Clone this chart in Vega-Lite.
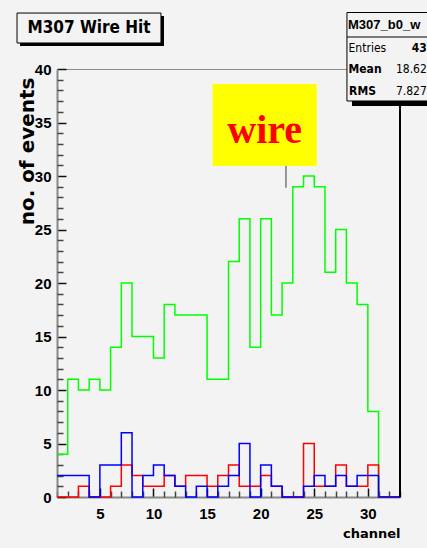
{
 "$schema": "https://vega.github.io/schema/vega-lite/v6.json",
 "autosize": "none",
 "width": 343,
 "height": 428,
 "padding": {"left": 57, "top": 69, "right": 27, "bottom": 51},
 "background": "#f3f3f3",
 "config": {"view": {"stroke": "#8c8c8c", "strokeWidth": 1}, "axis": {"labelOverlap": false, "labelFlush": false, "grid": false}},
 "resolve": {"axis": {"x": "independent", "y": "independent"}},
 "datasets": {
  "hist": [
   {"series":"green","channel":1,"count":4},{"series":"green","channel":2,"count":11},{"series":"green","channel":3,"count":10},{"series":"green","channel":4,"count":11},{"series":"green","channel":5,"count":10},{"series":"green","channel":6,"count":14},{"series":"green","channel":7,"count":20},{"series":"green","channel":8,"count":15},{"series":"green","channel":9,"count":15},{"series":"green","channel":10,"count":13},{"series":"green","channel":11,"count":18},{"series":"green","channel":12,"count":17},{"series":"green","channel":13,"count":17},{"series":"green","channel":14,"count":17},{"series":"green","channel":15,"count":11},{"series":"green","channel":16,"count":11},{"series":"green","channel":17,"count":22},{"series":"green","channel":18,"count":26},{"series":"green","channel":19,"count":14},{"series":"green","channel":20,"count":26},{"series":"green","channel":21,"count":17},{"series":"green","channel":22,"count":20},{"series":"green","channel":23,"count":29},{"series":"green","channel":24,"count":30},{"series":"green","channel":25,"count":29},{"series":"green","channel":26,"count":21},{"series":"green","channel":27,"count":25},{"series":"green","channel":28,"count":20},{"series":"green","channel":29,"count":18},{"series":"green","channel":30,"count":8},{"series":"green","channel":31,"count":0},{"series":"green","channel":32,"count":0},{"series":"green","channel":33,"count":0},
   {"series":"red","channel":1,"count":0},{"series":"red","channel":2,"count":0},{"series":"red","channel":3,"count":1},{"series":"red","channel":4,"count":0},{"series":"red","channel":5,"count":0},{"series":"red","channel":6,"count":1},{"series":"red","channel":7,"count":3},{"series":"red","channel":8,"count":2},{"series":"red","channel":9,"count":1},{"series":"red","channel":10,"count":1},{"series":"red","channel":11,"count":2},{"series":"red","channel":12,"count":1},{"series":"red","channel":13,"count":2},{"series":"red","channel":14,"count":2},{"series":"red","channel":15,"count":1},{"series":"red","channel":16,"count":2},{"series":"red","channel":17,"count":3},{"series":"red","channel":18,"count":1},{"series":"red","channel":19,"count":1},{"series":"red","channel":20,"count":2},{"series":"red","channel":21,"count":1},{"series":"red","channel":22,"count":0},{"series":"red","channel":23,"count":0},{"series":"red","channel":24,"count":5},{"series":"red","channel":25,"count":1},{"series":"red","channel":26,"count":1},{"series":"red","channel":27,"count":3},{"series":"red","channel":28,"count":1},{"series":"red","channel":29,"count":1},{"series":"red","channel":30,"count":3},{"series":"red","channel":31,"count":0},{"series":"red","channel":32,"count":0},{"series":"red","channel":33,"count":0},
   {"series":"blue","channel":1,"count":2},{"series":"blue","channel":2,"count":2},{"series":"blue","channel":3,"count":2},{"series":"blue","channel":4,"count":0},{"series":"blue","channel":5,"count":3},{"series":"blue","channel":6,"count":3},{"series":"blue","channel":7,"count":6},{"series":"blue","channel":8,"count":0},{"series":"blue","channel":9,"count":2},{"series":"blue","channel":10,"count":3},{"series":"blue","channel":11,"count":2},{"series":"blue","channel":12,"count":1},{"series":"blue","channel":13,"count":0},{"series":"blue","channel":14,"count":1},{"series":"blue","channel":15,"count":0},{"series":"blue","channel":16,"count":1},{"series":"blue","channel":17,"count":2},{"series":"blue","channel":18,"count":5},{"series":"blue","channel":19,"count":0},{"series":"blue","channel":20,"count":3},{"series":"blue","channel":21,"count":1},{"series":"blue","channel":22,"count":0},{"series":"blue","channel":23,"count":0},{"series":"blue","channel":24,"count":1},{"series":"blue","channel":25,"count":2},{"series":"blue","channel":26,"count":1},{"series":"blue","channel":27,"count":2},{"series":"blue","channel":28,"count":1},{"series":"blue","channel":29,"count":2},{"series":"blue","channel":30,"count":2},{"series":"blue","channel":31,"count":0},{"series":"blue","channel":32,"count":0},{"series":"blue","channel":33,"count":0}
  ]
 },
 "layer": [
  {
   "data": {"name": "hist"},
   "transform": [{"filter": {"field": "series", "equal": "green"}}],
   "mark": {"type": "line", "interpolate": "step-after", "color": "#00ff00", "strokeWidth": 1.5},
   "encoding": {
    "x": {"field": "channel", "type": "quantitative", "scale": {"domain": [1, 33], "nice": false, "zero": false},
     "axis": {"orient": "bottom", "values": [5,10,15,20,25,30],
      "title": "channel", "titleAnchor": "end", "titleAlign": "right", "titleX": 343, "titleY": 40, "titleBaseline": "alphabetic",
      "titleFont": "DejaVu Sans", "titleFontSize": 13, "titleFontWeight": "bold", "titleColor": "#000",
      "tickSize": -9, "tickColor": "#111", "tickWidth": 1.5, "labelPadding": 18, "domainColor": "#888", "domainWidth": 2,
      "labelFont": "Liberation Sans", "labelFontSize": 15, "labelFontWeight": "bold", "labelColor": "#000"}},
    "y": {"field": "count", "type": "quantitative", "scale": {"domain": [0, 40], "nice": false, "zero": false},
     "axis": {"orient": "left", "values": [0,5,10,15,20,25,30,35,40],
      "title": "no. of events", "titleAngle": -90, "titleAlign": "right", "titleBaseline": "alphabetic", "titleX": -24, "titleY": 8,
      "titleFont": "DejaVu Sans", "titleFontSize": 20, "titleFontWeight": "bold", "titleColor": "#000",
      "tickSize": -9, "tickColor": "#111", "tickWidth": 1.5, "labelPadding": 15, "domainColor": "#888", "domainWidth": 2,
      "labelFont": "Liberation Sans", "labelFontSize": 15, "labelFontWeight": "bold", "labelColor": "#000"}}
   }
  },
  {
   "data": {"name": "hist"},
   "transform": [{"filter": {"field": "series", "equal": "red"}}],
   "mark": {"type": "line", "interpolate": "step-after", "color": "#ff0000", "strokeWidth": 1.5},
   "encoding": {
    "x": {"field": "channel", "type": "quantitative", "scale": {"domain": [1, 33], "nice": false, "zero": false},
     "axis": {"orient": "bottom", "values": [1,2,3,4,6,7,8,9,11,12,13,14,16,17,18,19,21,22,23,24,26,27,28,29,31,32,33],
      "title": null, "labels": false, "domain": false, "tickSize": -6, "tickColor": "#444", "tickWidth": 1.5}},
    "y": {"field": "count", "type": "quantitative", "scale": {"domain": [0, 40], "nice": false, "zero": false},
     "axis": {"orient": "left", "values": [1,2,3,4,6,7,8,9,11,12,13,14,16,17,18,19,21,22,23,24,26,27,28,29,31,32,33,34,36,37,38,39],
      "title": null, "labels": false, "domain": false, "tickSize": -6, "tickColor": "#444", "tickWidth": 1.5}}
   }
  },
  {
   "data": {"name": "hist"},
   "transform": [{"filter": {"field": "series", "equal": "blue"}}],
   "mark": {"type": "line", "interpolate": "step-after", "color": "#0000ff", "strokeWidth": 1.5},
   "encoding": {
    "x": {"field": "channel", "type": "quantitative", "scale": {"domain": [1, 33], "nice": false, "zero": false}, "axis": null},
    "y": {"field": "count", "type": "quantitative", "scale": {"domain": [0, 40], "nice": false, "zero": false}, "axis": null}
   }
  },
  {
   "data": {"values": [{}]},
   "mark": {"type": "rule", "color": "#000", "strokeWidth": 2},
   "encoding": {"x": {"datum": 33, "type": "quantitative", "scale": {"domain": [1, 33], "nice": false, "zero": false}, "axis": null}}
  },
  {
   "data": {"values": [{}]},
   "mark": {"type": "rect", "fill": "#000"},
   "encoding": {
    "x": {"datum": -2.45, "type": "quantitative", "scale": {"domain": [1, 33], "nice": false, "zero": false}, "axis": null}, "x2": {"datum": 10.98},
    "y": {"datum": 44.95, "type": "quantitative", "scale": {"domain": [0, 40], "nice": false, "zero": false}, "axis": null}, "y2": {"datum": 42.15}
   }
  },
  {
   "data": {"values": [{}]},
   "mark": {"type": "rect", "fill": "#f3f3f3", "stroke": "#000", "strokeWidth": 1},
   "encoding": {
    "x": {"datum": -2.73, "type": "quantitative", "scale": {"domain": [1, 33], "nice": false, "zero": false}, "axis": null}, "x2": {"datum": 10.7},
    "y": {"datum": 45.23, "type": "quantitative", "scale": {"domain": [0, 40], "nice": false, "zero": false}, "axis": null}, "y2": {"datum": 42.43}
   }
  },
  {
   "data": {"values": [{}]},
   "mark": {"type": "text", "text": "M307 Wire Hit", "font": "Liberation Sans Narrow, DejaVu Sans Condensed, sans-serif", "fontSize": 17, "fontWeight": "bold", "color": "#000", "align": "center", "baseline": "middle"},
   "encoding": {
    "x": {"datum": 3.99, "type": "quantitative", "scale": {"domain": [1, 33], "nice": false, "zero": false}, "axis": null},
    "y": {"datum": 43.83, "type": "quantitative", "scale": {"domain": [0, 40], "nice": false, "zero": false}, "axis": null}
   }
  },
  {
   "data": {"values": [{}]},
   "mark": {"type": "rect", "fill": "#000"},
   "encoding": {
    "x": {"datum": 28.52, "type": "quantitative", "scale": {"domain": [1, 33], "nice": false, "zero": false}, "axis": null}, "x2": {"datum": 36.7},
    "y": {"datum": 44.95, "type": "quantitative", "scale": {"domain": [0, 40], "nice": false, "zero": false}, "axis": null}, "y2": {"datum": 36.54}
   }
  },
  {
   "data": {"values": [{}]},
   "mark": {"type": "rect", "fill": "#f3f3f3", "stroke": "#000", "strokeWidth": 1},
   "encoding": {
    "x": {"datum": 28.05, "type": "quantitative", "scale": {"domain": [1, 33], "nice": false, "zero": false}, "axis": null}, "x2": {"datum": 36.7},
    "y": {"datum": 45.28, "type": "quantitative", "scale": {"domain": [0, 40], "nice": false, "zero": false}, "axis": null}, "y2": {"datum": 37.01}
   }
  },
  {
   "data": {"values": [{}]},
   "mark": {"type": "rule", "color": "#000", "strokeWidth": 1},
   "encoding": {
    "x": {"datum": 28.05, "type": "quantitative", "scale": {"domain": [1, 33], "nice": false, "zero": false}, "axis": null}, "x2": {"datum": 36.7},
    "y": {"datum": 42.99, "type": "quantitative", "scale": {"domain": [0, 40], "nice": false, "zero": false}, "axis": null}
   }
  },
  {
   "data": {"values": [{}]},
   "mark": {"type": "text", "text": "M307_b0_w", "font": "Liberation Sans", "fontSize": 13, "fontWeight": "bold", "color": "#000", "align": "left", "baseline": "middle"},
   "encoding": {
    "x": {"datum": 28.15, "type": "quantitative", "scale": {"domain": [1, 33], "nice": false, "zero": false}, "axis": null},
    "y": {"datum": 44.11, "type": "quantitative", "scale": {"domain": [0, 40], "nice": false, "zero": false}, "axis": null}
   }
  },
  {
   "data": {"values": [{}]},
   "mark": {"type": "text", "text": "Entries", "font": "Liberation Sans Narrow, DejaVu Sans Condensed, sans-serif", "fontSize": 12, "color": "#000", "align": "left", "baseline": "middle"},
   "encoding": {
    "x": {"datum": 28.2, "type": "quantitative", "scale": {"domain": [1, 33], "nice": false, "zero": false}, "axis": null},
    "y": {"datum": 41.96, "type": "quantitative", "scale": {"domain": [0, 40], "nice": false, "zero": false}, "axis": null}
   }
  },
  {
   "data": {"values": [{}]},
   "mark": {"type": "text", "text": "43", "font": "Liberation Sans Narrow, DejaVu Sans Condensed, sans-serif", "fontSize": 12, "fontWeight": "bold", "color": "#000", "align": "right", "baseline": "middle"},
   "encoding": {
    "x": {"datum": 35.5, "type": "quantitative", "scale": {"domain": [1, 33], "nice": false, "zero": false}, "axis": null},
    "y": {"datum": 41.96, "type": "quantitative", "scale": {"domain": [0, 40], "nice": false, "zero": false}, "axis": null}
   }
  },
  {
   "data": {"values": [{}]},
   "mark": {"type": "text", "text": "Mean", "font": "Liberation Sans Narrow, DejaVu Sans Condensed, sans-serif", "fontSize": 12, "fontWeight": "bold", "color": "#000", "align": "left", "baseline": "middle"},
   "encoding": {
    "x": {"datum": 28.2, "type": "quantitative", "scale": {"domain": [1, 33], "nice": false, "zero": false}, "axis": null},
    "y": {"datum": 40.0, "type": "quantitative", "scale": {"domain": [0, 40], "nice": false, "zero": false}, "axis": null}
   }
  },
  {
   "data": {"values": [{}]},
   "mark": {"type": "text", "text": "18.62", "font": "Liberation Sans Narrow, DejaVu Sans Condensed, sans-serif", "fontSize": 12, "color": "#000", "align": "right", "baseline": "middle"},
   "encoding": {
    "x": {"datum": 35.5, "type": "quantitative", "scale": {"domain": [1, 33], "nice": false, "zero": false}, "axis": null},
    "y": {"datum": 40.0, "type": "quantitative", "scale": {"domain": [0, 40], "nice": false, "zero": false}, "axis": null}
   }
  },
  {
   "data": {"values": [{}]},
   "mark": {"type": "text", "text": "RMS", "font": "Liberation Sans Narrow, DejaVu Sans Condensed, sans-serif", "fontSize": 12, "fontWeight": "bold", "color": "#000", "align": "left", "baseline": "middle"},
   "encoding": {
    "x": {"datum": 28.25, "type": "quantitative", "scale": {"domain": [1, 33], "nice": false, "zero": false}, "axis": null},
    "y": {"datum": 37.94, "type": "quantitative", "scale": {"domain": [0, 40], "nice": false, "zero": false}, "axis": null}
   }
  },
  {
   "data": {"values": [{}]},
   "mark": {"type": "text", "text": "7.827", "font": "Liberation Sans Narrow, DejaVu Sans Condensed, sans-serif", "fontSize": 12, "color": "#000", "align": "right", "baseline": "middle"},
   "encoding": {
    "x": {"datum": 35.5, "type": "quantitative", "scale": {"domain": [1, 33], "nice": false, "zero": false}, "axis": null},
    "y": {"datum": 37.94, "type": "quantitative", "scale": {"domain": [0, 40], "nice": false, "zero": false}, "axis": null}
   }
  },
  {
   "data": {"values": [{}]},
   "mark": {"type": "rect", "fill": "#ffff00"},
   "encoding": {
    "x": {"datum": 15.52, "type": "quantitative", "scale": {"domain": [1, 33], "nice": false, "zero": false}, "axis": null}, "x2": {"datum": 25.23},
    "y": {"datum": 38.6, "type": "quantitative", "scale": {"domain": [0, 40], "nice": false, "zero": false}, "axis": null}, "y2": {"datum": 30.93}
   }
  },
  {
   "data": {"values": [{}]},
   "mark": {"type": "text", "text": "wire", "font": "Liberation Serif", "fontSize": 40, "fontWeight": "bold", "color": "#ff0000", "align": "center", "baseline": "alphabetic"},
   "encoding": {
    "x": {"datum": 20.38, "type": "quantitative", "scale": {"domain": [1, 33], "nice": false, "zero": false}, "axis": null},
    "y": {"datum": 33.08, "type": "quantitative", "scale": {"domain": [0, 40], "nice": false, "zero": false}, "axis": null}
   }
  },
  {
   "data": {"values": [{}]},
   "mark": {"type": "rule", "color": "#777", "strokeWidth": 1.5},
   "encoding": {
    "x": {"datum": 22.36, "type": "quantitative", "scale": {"domain": [1, 33], "nice": false, "zero": false}, "axis": null},
    "y": {"datum": 30.93, "type": "quantitative", "scale": {"domain": [0, 40], "nice": false, "zero": false}, "axis": null}, "y2": {"datum": 28.9}
   }
  }
 ]
}
